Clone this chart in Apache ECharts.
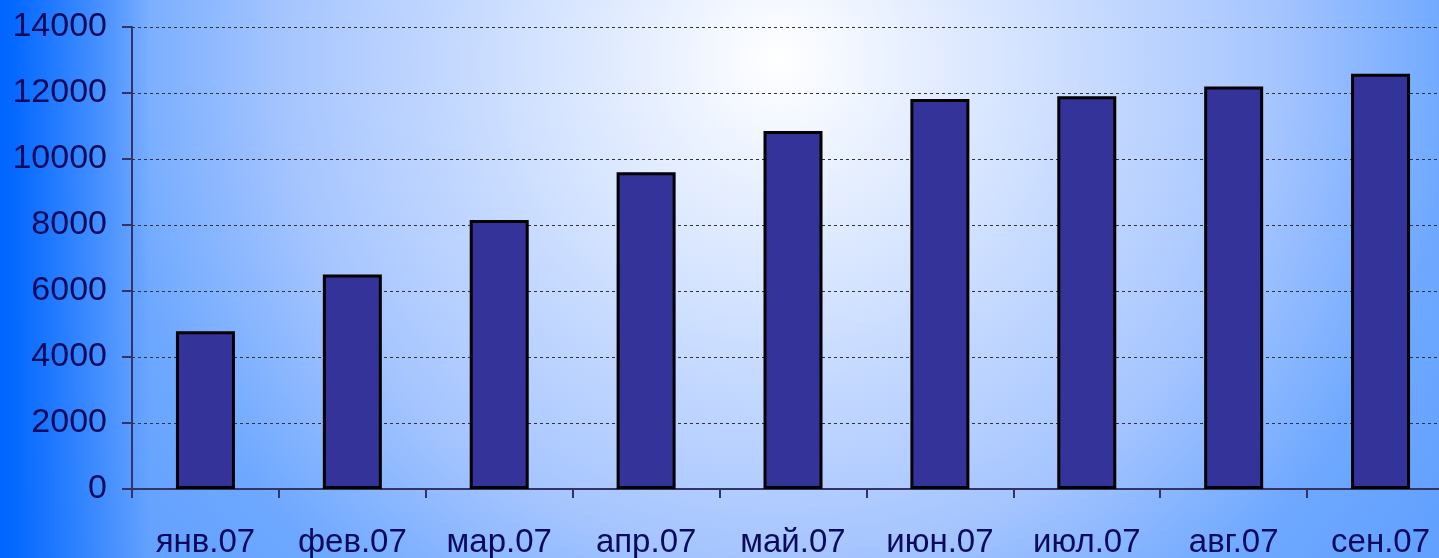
<!DOCTYPE html>
<html>
<head>
<meta charset="utf-8">
<script src="https://cdn.jsdelivr.net/npm/echarts@6/dist/echarts.min.js"></script>
<style>
  html, body { margin: 0; padding: 0; }
  #main { width: 1439px; height: 558px; }
</style>
</head>
<body>
<div id="main"></div>
<script>
var months = ['янв.07', 'фев.07', 'мар.07', 'апр.07', 'май.07', 'июн.07', 'июл.07', 'авг.07', 'сен.07']
var values = [4780, 6500, 8150, 9600, 10850, 11820, 11900, 12200, 12580]
var yTicks = [0, 2000, 4000, 6000, 8000, 10000, 12000, 14000]

var chart = echarts.init(document.getElementById('main'))
var labelFont = 'Liberation Sans, Arial, sans-serif'

var option = {
  // фон: светлое пятно сверху по центру, к краям синее
  backgroundColor: {
    type: 'radial',
    x: 780,
    y: 60,
    r: 900,
    global: true,
    colorStops: [
      { offset: 0, color: '#ffffff' },
      { offset: 0.55, color: '#a6c5ff' },
      { offset: 0.75, color: '#6ea8ff' },
      { offset: 1, color: '#5a9cff' }
    ]
  },
  graphic: [{
    type: 'rect',
    z: -1,
    silent: true,
    shape: { x: 0, y: 0, width: 150, height: 558 },
    style: {
      fill: new echarts.graphic.LinearGradient(0, 0, 1, 0, [
        { offset: 0, color: 'rgba(0,102,255,1)' },
        { offset: 0.1, color: 'rgba(0,102,255,0.95)' },
        { offset: 1, color: 'rgba(0,102,255,0)' }
      ])
    }
  }],
  grid: {
    left: 132,
    top: 27,
    width: 1322,
    height: 462,
    outerBoundsMode: 'none'
  },
  xAxis: {
    type: 'category',
    data: months,
    axisLine: { lineStyle: { color: '#333366', width: 2 } },
    axisTick: { show: true, length: 9, lineStyle: { color: '#333366', width: 2 } },
    axisLabel: {
      color: '#0a0a5c',
      fontSize: 33,
      fontFamily: labelFont,
      margin: 37
    }
  },
  yAxis: {
    type: 'value',
    min: yTicks[0],
    max: yTicks[yTicks.length - 1],
    interval: 2000,
    axisLine: { show: true, lineStyle: { color: '#333366', width: 2 } },
    axisTick: { show: true, length: 10, lineStyle: { color: '#333366', width: 2 } },
    axisLabel: {
      color: '#0a0a5c',
      fontSize: 34,
      fontFamily: labelFont,
      margin: 25,
      formatter: function (v) { return String(v) }
    },
    splitLine: {
      show: true,
      lineStyle: { color: '#333333', type: [3, 3], width: 1 }
    }
  },
  series: [{
    type: 'bar',
    data: values,
    barWidth: 59,
    itemStyle: {
      color: '#333399',
      borderColor: '#000000',
      borderWidth: 3
    }
  }]
}

chart.setOption(option)
</script>
</body>
</html>
